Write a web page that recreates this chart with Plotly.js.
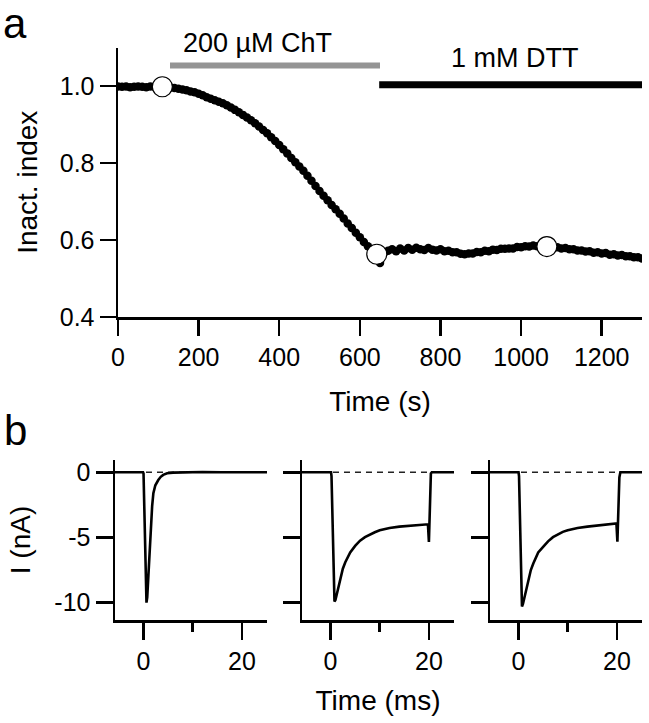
<!DOCTYPE html>
<html>
<head>
<meta charset="utf-8">
<script src="https://cdn.plot.ly/plotly-3.0.1.min.js"></script>
<style>
  html, body { margin: 0; padding: 0; background: #fff; }
  #fig { width: 649px; height: 723px; }
</style>
</head>
<body>
<div id="fig"></div>
<script>
// panel a: inactivation index over time (s)
var timeS = [0,10,20,30,40,50,60,70,80,90,100,110,120,130,140,150,160,170,180,190,200,
  210,220,230,240,250,260,270,280,290,300,310,320,330,340,350,360,370,380,390,400,
  410,420,430,440,450,460,470,480,490,500,510,520,530,540,550,560,570,580,590,600,
  610,620,630,640,650,660,670,680,690,700,710,720,730,740,750,760,770,780,790,800,
  810,820,830,840,850,860,870,880,890,900,910,920,930,940,950,960,970,980,990,1000,
  1010,1020,1030,1040,1050,1060,1070,1080,1090,1100,1110,1120,1130,1140,1150,1160,1170,1180,1190,1200,
  1210,1220,1230,1240,1250,1260,1270,1280,1290,1300];
var inactIndex = [0.999,0.998,0.999,0.997,0.998,0.999,0.998,0.997,0.999,0.998,0.998,
  0.998,0.997,0.996,0.995,0.993,0.991,0.989,0.986,0.984,0.980,
  0.976,0.971,0.967,0.963,0.959,0.955,0.950,0.944,0.938,0.932,
  0.925,0.918,0.911,0.903,0.895,0.886,0.877,0.867,0.857,0.847,
  0.836,0.825,0.813,0.802,0.791,0.780,0.767,0.754,0.740,0.727,
  0.715,0.703,0.691,0.680,0.668,0.656,0.643,0.631,0.619,0.607,
  0.595,0.584,0.574,0.565,0.540,0.566,0.572,0.576,0.571,0.578,
  0.573,0.579,0.575,0.580,0.576,0.574,0.579,0.575,0.573,0.576,
  0.571,0.572,0.568,0.568,0.564,0.563,0.565,0.565,0.569,0.568,
  0.572,0.571,0.575,0.574,0.577,0.577,0.578,0.578,0.582,0.581,
  0.584,0.583,0.586,0.584,0.585,0.584,0.583,0.580,0.581,0.578,
  0.579,0.576,0.576,0.573,0.573,0.570,0.571,0.567,0.568,0.565,
  0.566,0.562,0.563,0.560,0.561,0.558,0.558,0.555,0.555,0.552];

// open circles: time points of the sweeps shown in panel b
var sweepTimes = [110, 642, 1064];
var sweepIndex = [0.998, 0.563, 0.583];

// application bars
var chtSpan = [129, 650];
var chtLevel = [1.053, 1.053];
var dttSpan = [648, 1300];
var dttLevel = [1.003, 1.003];

// panel b: current sweeps (ms, nA)
var sweep1T = [-5.8,-0.1,0.0,0.1,0.2,0.3,0.45,0.6,0.75,0.9,1.1,1.3,1.5,1.75,2.0,2.4,3.0,3.5,4.0,4.8,6,8,12,16,20,25.1];
var sweep1I = [0,0,-0.1,-2.2,-4.6,-6.9,-9.2,-10.0,-9.6,-8.5,-6.6,-5.0,-3.8,-2.6,-1.6,-1.0,-0.6,-0.35,-0.2,-0.08,-0.03,0,0.02,0,0.01,0];

var sweep2T = [-5.8,0.1,0.2,0.35,0.5,0.65,0.8,1.0,1.3,1.6,2.0,2.5,3.0,3.5,4.0,5.0,6.0,7.0,8.0,9.0,10,12,14,16,18,19.8,20.0,20.2,20.4,20.6,22,25.1];
var sweep2I = [0,0,-0.3,-3.0,-6.0,-8.8,-9.9,-9.8,-9.3,-8.8,-8.1,-7.4,-6.9,-6.5,-6.15,-5.65,-5.25,-4.98,-4.78,-4.6,-4.45,-4.28,-4.17,-4.1,-4.04,-3.99,-5.35,-2.5,-0.1,0,0,0];

var sweep3T = [-5.8,0.0,0.1,0.25,0.4,0.55,0.7,0.9,1.2,1.5,2.0,2.5,3.0,3.5,4.0,5.0,6.0,7.0,8.0,9.0,10,12,14,16,18,19.9,20.1,20.3,20.5,20.7,22,25.1];
var sweep3I = [0,0,-0.3,-3.2,-6.4,-9.2,-10.3,-10.1,-9.6,-9.0,-8.2,-7.5,-7.0,-6.5,-6.15,-5.72,-5.3,-4.98,-4.75,-4.57,-4.45,-4.28,-4.17,-4.09,-4.02,-3.93,-5.32,-2.8,-0.4,0,0,0];

var zeroT = [0.5, 20];
var zeroI = [0, 0];

var currentTicks = [-10, -5, 0];
var currentTickText = ['-10', '-5', '0'];
var msTicks = [0, 20];

var FONT = '"Liberation Sans", Arial, sans-serif';
var W = 649, H = 723;
function px(x) { return x / W; }
function py(y) { return 1 - y / H; }

var data = [];
data.push({x: chtSpan, y: chtLevel, xaxis: 'x', yaxis: 'y', type: 'scatter', mode: 'lines',
  line: {color: '#949494', width: 6}, hoverinfo: 'skip'});
data.push({x: dttSpan, y: dttLevel, xaxis: 'x', yaxis: 'y', type: 'scatter', mode: 'lines',
  line: {color: '#000', width: 7}, hoverinfo: 'skip'});
data.push({x: timeS, y: inactIndex, xaxis: 'x', yaxis: 'y', type: 'scatter', mode: 'markers',
  marker: {color: '#000', size: 8.5}});
data.push({x: sweepTimes, y: sweepIndex, xaxis: 'x', yaxis: 'y', type: 'scatter', mode: 'markers',
  marker: {color: '#fff', size: 20, line: {color: '#000', width: 1.2}}, cliponaxis: false});

var sweeps = [[sweep1T, sweep1I], [sweep2T, sweep2I], [sweep3T, sweep3I]];
sweeps.forEach(function(s, i) {
  var xa = 'x' + (i + 2), ya = 'y' + (i + 2);
  data.push({x: zeroT, y: zeroI, xaxis: xa, yaxis: ya, type: 'scatter', mode: 'lines',
    line: {color: '#222', width: 1.6, dash: '6px,5px'}});
  data.push({x: s[0], y: s[1], xaxis: xa, yaxis: ya, type: 'scatter', mode: 'lines',
    line: {color: '#000', width: 2.6}});
});

var tickFont = {family: FONT, size: 25, color: '#000'};
var titleFont = {family: FONT, size: 28, color: '#000'};

function baseAxis(extra) {
  var a = {
    showline: true, linecolor: '#000', linewidth: 2.5,
    ticks: 'outside', tickcolor: '#000', tickwidth: 2.5, ticklen: 16,
    showgrid: false, zeroline: false, fixedrange: true,
    tickfont: tickFont
  };
  for (var k in extra) a[k] = extra[k];
  return a;
}

var layout = {
  width: W, height: H,
  margin: {l: 0, r: 0, t: 0, b: 0},
  paper_bgcolor: '#fff', plot_bgcolor: 'rgba(0,0,0,0)',
  showlegend: false,
  font: {family: FONT, color: '#000'},
  xaxis: baseAxis({domain: [px(118), px(642)], anchor: 'y', range: [0, 1300],
    tickmode: 'linear', tick0: 0, dtick: 200,
    title: {text: 'Time (s)', font: titleFont, standoff: 22}}),
  yaxis: baseAxis({domain: [py(317), py(47.5)], anchor: 'x', range: [0.4, 1.1],
    tickmode: 'array', tickvals: [0.4, 0.6, 0.8, 1.0], ticktext: ['0.4', '0.6', '0.8', '1.0'],
    title: {text: 'Inact. index', font: titleFont, standoff: 14}}),
  annotations: [
    {xref: 'paper', yref: 'paper', x: px(1), y: py(23), xanchor: 'left', yanchor: 'middle',
      text: 'a', showarrow: false, font: {family: FONT, size: 42, color: '#000'}},
    {xref: 'paper', yref: 'paper', x: px(2), y: py(430), xanchor: 'left', yanchor: 'middle',
      text: 'b', showarrow: false, font: {family: FONT, size: 42, color: '#000'}},
    {xref: 'x', yref: 'paper', x: 346, y: py(43), xanchor: 'center', yanchor: 'middle',
      text: '200 µM ChT', showarrow: false, font: {family: FONT, size: 27, color: '#000'}},
    {xref: 'x', yref: 'paper', x: 985, y: py(58), xanchor: 'center', yanchor: 'middle',
      text: '1 mM DTT', showarrow: false, font: {family: FONT, size: 27, color: '#000'}}
  ]
};

var domainsB = [[115, 267], [302, 454], [490, 642]];
domainsB.forEach(function(d, i) {
  var n = i + 2;
  var xa = baseAxis({domain: [px(d[0]), px(d[1])], anchor: 'y' + n, range: [-5.8, 25.1],
    tickmode: 'array', tickvals: msTicks, ticktext: ['0', '20'], ticklen: 17,
    minor: {tickmode: 'array', tickvals: [10], ticks: 'outside', ticklen: 9, tickwidth: 2.5, tickcolor: '#000', showgrid: false}});
  var ya = baseAxis({domain: [py(620), py(460)], anchor: 'x' + n, range: [-11.33, 0.94],
    tickmode: 'array', tickvals: currentTicks, ticktext: currentTickText, ticklen: 17,
    showticklabels: i === 0});
  if (i === 0) ya.title = {text: 'I (nA)', font: titleFont, standoff: 16};
  if (i === 1) xa.title = {text: 'Time (ms)', font: titleFont, standoff: 17};
  layout['xaxis' + n] = xa;
  layout['yaxis' + n] = ya;
});

Plotly.newPlot('fig', data, layout, {displayModeBar: false, staticPlot: true});
</script>
</body>
</html>
